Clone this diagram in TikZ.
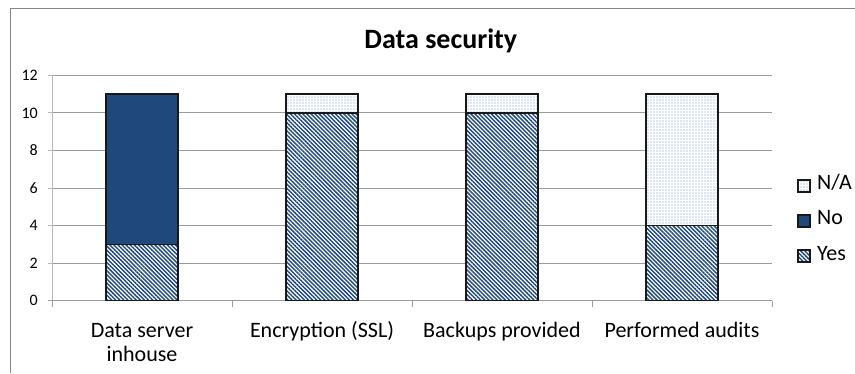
\documentclass[tikz,border=0pt]{standalone}
\usepackage{fontspec}
\setmainfont{Carlito}
\usetikzlibrary{patterns.meta}
\definecolor{navy}{RGB}{31,73,125}
\definecolor{dotblue}{RGB}{105,145,210}
\definecolor{gridgray}{RGB}{155,155,155}
\definecolor{axisgray}{RGB}{185,185,185}
\definecolor{framegray}{RGB}{134,134,134}
\tikzset{
  gridline/.style={draw=gridgray,line width=1pt},
  axisline/.style={draw=axisgray,line width=1pt},
  barline/.style={draw=black!90,line width=1.5pt},
  yesfill/.style={preaction={fill=white},
    pattern={Lines[angle=-45,distance=2.9pt,line width=1.45pt]},pattern color=navy},
  nofill/.style={fill=navy},
  nafill/.style={preaction={fill=white},
    pattern={Dots[distance=3pt,radius=0.6pt]},pattern color=dotblue},
  ticklabel/.style={font=\fontsize{16}{18}\selectfont,anchor=east,inner sep=0pt},
  catlabel/.style={font=\fontsize{22}{24}\selectfont,anchor=base,align=center,inner sep=0pt},
  legbox/.style={minimum size=12pt,inner sep=0pt},
  legtext/.style={font=\fontsize{22}{24}\selectfont,anchor=base west,inner sep=0pt},
}
\begin{document}
\begin{tikzpicture}[x=1pt,y=-1pt]
\useasboundingbox (0,0) rectangle (855,373);
\fill[white] (0,0) rectangle (855,373);
% outer chart frame (left and top edges)
\draw[framegray,line width=1pt] (10,373) -- (10,8) -- (855,8);
% value axis: y(v) = 300.7 - 18.78 v
\def\yz{300.7}
\def\s{18.78}
\foreach \v in {2,4,...,12}{
  \draw[gridline] (48,{\yz-\s*\v}) -- (772,{\yz-\s*\v});
}
\draw[axisline] (52,{\yz-\s*12}) -- (52,\yz);
\foreach \v in {0,2,...,12}{
  \draw[axisline] (48,{\yz-\s*\v}) -- (52,{\yz-\s*\v});
  \node[ticklabel] (t\v) at (38,{\yz-\s*\v}) {\v};
}
% category axis with tick marks between categories
\draw[gridline] (48,\yz) -- (772,\yz);
\foreach \x in {52,232,412,592,772}{
  \draw[gridline] (\x,\yz) -- (\x,{\yz+6});
}
% stacked bars: centre / Yes / No / N/A
\foreach \c/\yes/\no/\na in {142/3/8/0,322/10/0/1,502/10/0/1,682/4/0/7}{
  \path[yesfill] ({\c-36},\yz) rectangle ({\c+36},{\yz-\s*\yes});
  \draw[barline] ({\c-36},\yz) rectangle ({\c+36},{\yz-\s*\yes});
  \ifnum\no>0
    \path[nofill] ({\c-36},{\yz-\s*\yes}) rectangle ({\c+36},{\yz-\s*(\yes+\no)});
    \draw[barline] ({\c-36},{\yz-\s*\yes}) rectangle ({\c+36},{\yz-\s*(\yes+\no)});
  \fi
  \ifnum\na>0
    \path[nafill] ({\c-36},{\yz-\s*(\yes+\no)}) rectangle ({\c+36},{\yz-\s*11});
    \draw[barline] ({\c-36},{\yz-\s*(\yes+\no)}) rectangle ({\c+36},{\yz-\s*11});
  \fi
}
% category labels (a two-line node sits on its last baseline)
\node[catlabel] (c1) at (142,361) {Data server\\inhouse};
\node[catlabel] (c2) at (322,337) {Encryption (SSL)};
\node[catlabel] (c3) at (502,337) {Backups provided};
\node[catlabel] (c4) at (682,337) {Performed audits};
% title
\node[font=\fontsize{28}{30}\selectfont\bfseries,anchor=base,inner sep=0pt] (title) at (440.8,48.3) {Data security};
% legend keys: fill, then outline
\path[nafill] (798,180) rectangle (810,192);
\draw[barline,line width=1.2pt] (798,180) rectangle (810,192);
\path[nofill] (798,215) rectangle (810,227);
\draw[barline,line width=1.2pt] (798,215) rectangle (810,227);
\path[yesfill] (798,250) rectangle (810,262);
\draw[barline,line width=1.2pt] (798,250) rectangle (810,262);
\node[legtext] (lna) at (817,189.3) {N/A};
\node[legtext] (lno) at (817,224.3) {No};
\node[legtext] (lyes) at (817,260) {Yes};
\end{tikzpicture}
\end{document}
